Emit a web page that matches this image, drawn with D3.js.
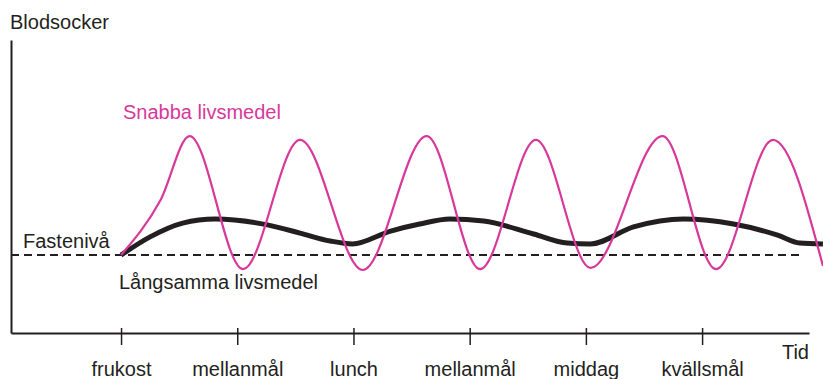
<!DOCTYPE html>
<html>
<head>
<meta charset="utf-8">
<script src="https://cdn.jsdelivr.net/npm/d3@7"></script>
<style>
	body { margin: 0; background: #fff; }
	text { font-family: 'Liberation Sans', Arial, sans-serif; fill: #231f20; }
</style>
</head>
<body>
<svg></svg>
<script>
// meals along the time axis (tick positions 0..5)
const meals = ['frukost', 'mellanmål', 'lunch', 'mellanmål', 'middag', 'kvällsmål'];
const mealPos = [0, 1, 2, 3, 4, 5];

// fast carbs: time (meal units), blood sugar level (0-100)
const fastT = [0, 0.34, 0.59, 1.05, 1.54, 2.08, 2.63, 3.09, 3.57, 4.04, 4.66, 5.12, 5.61, 6.04];
const fastY = [26.6, 45.4, 67.2, 21.8, 65.9, 21.5, 67.2, 21.8, 65.9, 22.2, 67.2, 21.8, 65.9, 22.9];

// slow carbs
const slowT = [0, 0.25, 0.53, 0.81, 1.26, 1.54, 1.8, 1.99, 2.32, 2.57, 2.83, 3.12, 3.55, 3.84, 4.04, 4.41, 4.84, 5.27, 5.65, 5.84, 6.04];
const slowY = [26.6, 32.8, 37.5, 38.9, 36.9, 34.1, 31.4, 30.4, 34.8, 37.2, 38.9, 38.2, 33.8, 30.7, 30.4, 36.2, 38.9, 37.2, 33.4, 30.7, 30.4];

const fastingLevel = 26.6;
const fastingEnd = 5.84;

const svg = d3.select('svg')
	.attr('width', 823)
	.attr('height', 379);

const ink = '#231f20',
	pink = '#d8389a',
	fontSize = 20;

const xScale = d3.scaleLinear()
	.domain([-0.947, 5.92])
	.range([11, 809]);

const yScale = d3.scaleLinear()
	.domain([0, 100])
	.range([333, 40]);

// axes
const yAxisG = svg.append('g')
	.attr('transform', `translate(${xScale.range()[0]}, 0)`)
	.call(d3.axisLeft(yScale).tickValues([]).tickSizeOuter(0));
yAxisG.select('.domain').attr('stroke', ink).attr('stroke-width', 2);

const xAxisG = svg.append('g')
	.attr('transform', `translate(0, ${yScale(0)})`)
	.call(d3.axisBottom(xScale)
		.tickValues(mealPos)
		.tickFormat(i => meals[i])
		.tickSize(12)
		.tickSizeOuter(0));
xAxisG.select('.domain').attr('stroke', ink).attr('stroke-width', 2);
xAxisG.selectAll('.tick line')
	.attr('y1', -5)
	.attr('stroke', ink)
	.attr('stroke-width', 1.5);
xAxisG.selectAll('.tick text')
	.attr('y', 43)
	.attr('dy', 0)
	.attr('font-size', fontSize)
	.attr('font-family', null)
	.attr('fill', ink);

// fasting level
svg.append('line')
	.attr('x1', xScale.range()[0])
	.attr('x2', xScale(fastingEnd))
	.attr('y1', yScale(fastingLevel))
	.attr('y2', yScale(fastingLevel))
	.attr('stroke', ink)
	.attr('stroke-width', 2)
	.attr('stroke-dasharray', '8,5');

const line = d3.line()
	.x(d => xScale(d[0]))
	.y(d => yScale(d[1]))
	.curve(d3.curveMonotoneX);

svg.append('path')
	.attr('d', line(d3.zip(slowT, slowY)))
	.attr('fill', 'none')
	.attr('stroke', ink)
	.attr('stroke-width', 5)
	.attr('stroke-linejoin', 'round');

svg.append('path')
	.attr('d', line(d3.zip(fastT, fastY)))
	.attr('fill', 'none')
	.attr('stroke', pink)
	.attr('stroke-width', 2.2);

// labels
const label = (x, y, txt, color, anchor) => svg.append('text')
	.attr('x', x)
	.attr('y', y)
	.attr('font-size', fontSize)
	.attr('text-anchor', anchor || 'start')
	.style('fill', color || ink)
	.text(txt);

label(10, 29, 'Blodsocker');
label(123, 119, 'Snabba livsmedel', pink);
label(23, 248, 'Fastenivå');
label(119, 289, 'Långsamma livsmedel');
label(809, 359, 'Tid', ink, 'end');
</script>
</body>
</html>
